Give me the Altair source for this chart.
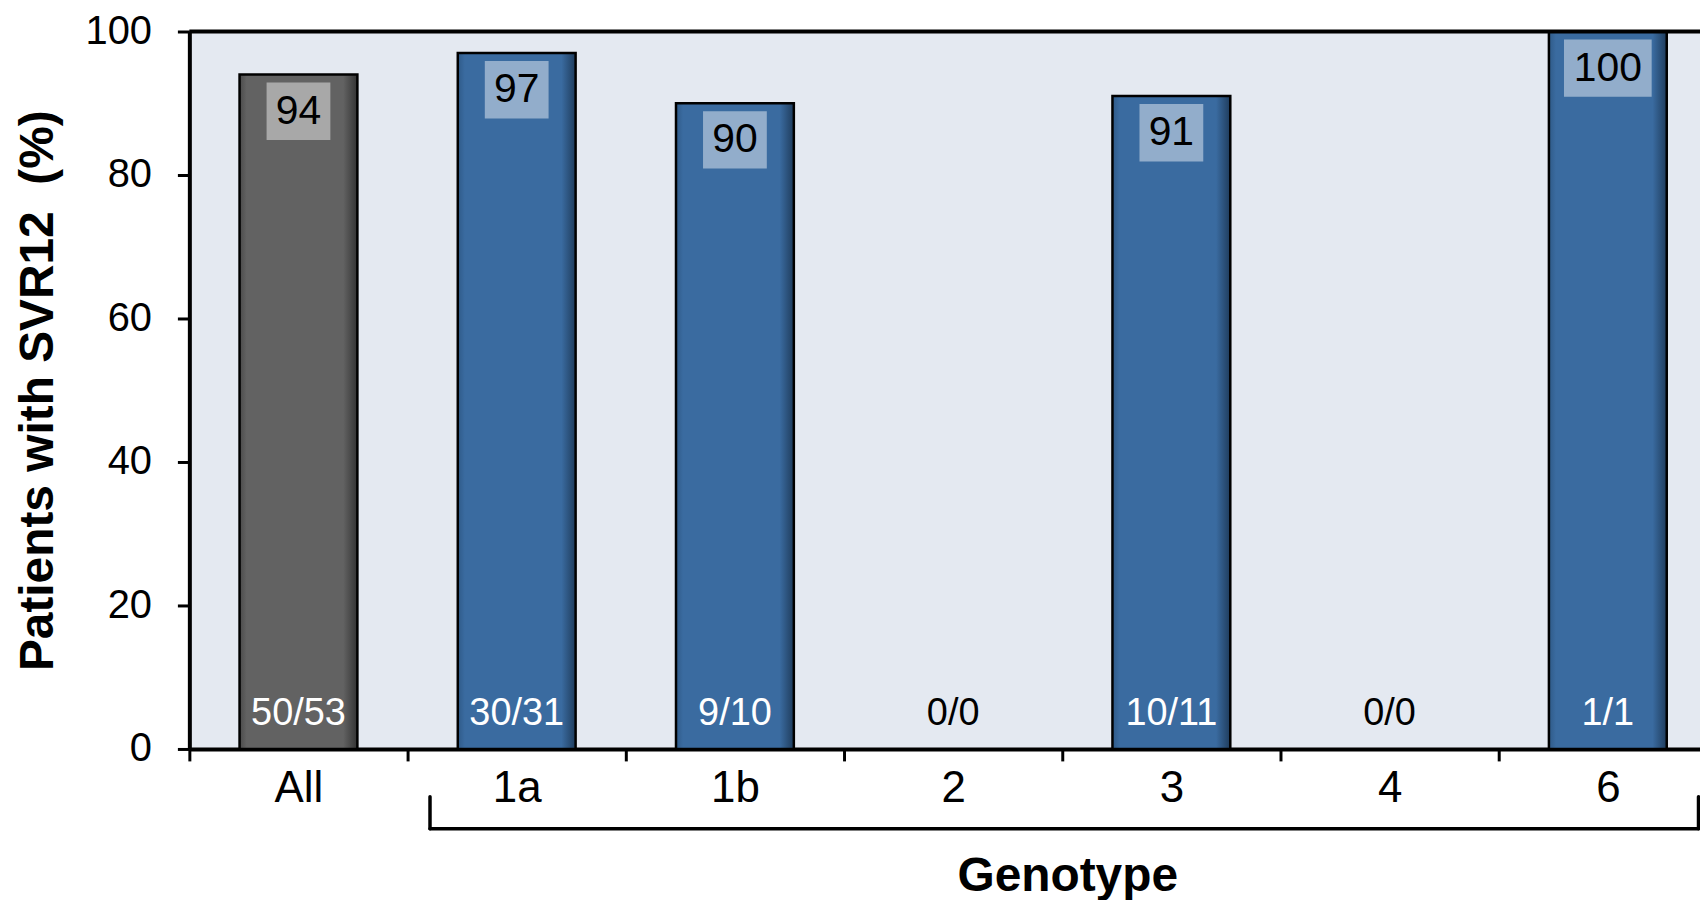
import altair as alt
import pandas as pd

categories = ["All", "1a", "1b", "2", "3", "4", "6"]
pct = [94, 97, 90, None, 91, None, 100]
value_labels = ["94", "97", "90", "", "91", "", "100"]
counts = ["50/53", "30/31", "9/10", "0/0", "10/11", "0/0", "1/1"]
groups = ["all", "geno", "geno", "geno", "geno", "geno", "geno"]

df = pd.DataFrame({"Genotype": categories, "pct": pct, "vlab": value_labels,
                   "count": counts, "group": groups})

FONT = "Liberation Sans"

xscale = alt.Scale(domain=categories, paddingInner=0, paddingOuter=0, range=[0, 1533])
yscale = alt.Scale(domain=[0, 100])

xaxis = alt.Axis(labelAngle=0, labelFontSize=44, labelColor="black", labelFont=FONT,
                 tickBand="extent", tickSize=12, tickWidth=3, tickColor="black",
                 domainColor="black", domainWidth=4, labelPadding=6,
                 title="Genotype", titleFontSize=48, titleFont=FONT, titleFontWeight="bold",
                 titleColor="black", titleX=881, titleY=142, titleBaseline="alphabetic",
                 titleAlign="center")
yaxis = alt.Axis(values=[0, 20, 40, 60, 80, 100], labelFontSize=40, labelColor="black",
                 labelFont=FONT, tickSize=12, tickWidth=3, tickColor="black",
                 domainColor="black", domainWidth=4, labelPadding=26, grid=False,
                 title="Patients with SVR12 \u00a0(%)", titleFontSize=48, titleFont=FONT,
                 titleFontWeight="bold", titleColor="black", titleX=-137, titleY=360,
                 titleBaseline="alphabetic", titleAngle=270, titleAlign="center")

X = alt.X("Genotype:N", scale=xscale, axis=xaxis, sort=categories, title="Genotype")
Y = alt.Y("pct:Q", scale=yscale, axis=yaxis, title="Patients with SVR12 \u00a0(%)")

base = alt.Chart(df)

grad_gray = alt.Gradient(gradient="linear", x1=0, x2=1, y1=0, y2=0, stops=[
    alt.GradientStop(color="#4a4a4a", offset=0),
    alt.GradientStop(color="#626262", offset=0.06),
    alt.GradientStop(color="#626262", offset=0.88),
    alt.GradientStop(color="#333333", offset=1)])
grad_blue = alt.Gradient(gradient="linear", x1=0, x2=1, y1=0, y2=0, stops=[
    alt.GradientStop(color="#2f5a88", offset=0),
    alt.GradientStop(color="#3a6ba0", offset=0.06),
    alt.GradientStop(color="#3a6ba0", offset=0.88),
    alt.GradientStop(color="#1f3c5c", offset=1)])

bar_w = alt.RelativeBandSize(0.54)

bars_all = base.transform_filter("datum.group == 'all'").mark_bar(
    color=grad_gray, stroke="black", strokeWidth=2.5, width=bar_w).encode(x=X, y=Y)
bars_geno = base.transform_filter("datum.group == 'geno' && isValid(datum.pct)").mark_bar(
    color=grad_blue, stroke="black", strokeWidth=2.5, width=bar_w).encode(x=X, y=Y)

boxes = base.transform_filter("isValid(datum.pct)").transform_calculate(
    bot="datum.pct - 8", w="length(datum.vlab) * 24 + 16"
).mark_bar(color="white", opacity=0.45, yOffset=8, y2Offset=8).encode(
    x=X, y=alt.Y("pct:Q", scale=yscale), y2="bot:Q", size=alt.Size("w:Q", scale=None)
)

vtext = base.transform_filter("isValid(datum.pct)").transform_calculate(
    mid="datum.pct - 4"
).mark_text(font=FONT, fontSize=41, color="black", baseline="middle", yOffset=8.5).encode(
    x=X, y=alt.Y("mid:Q", scale=yscale), text="vlab:N"
)

ctext = base.mark_text(font=FONT, fontSize=38, baseline="alphabetic", yOffset=-24).encode(
    x=X, y=alt.datum(0), text="count:N",
    color=alt.condition("isValid(datum.pct)", alt.value("white"), alt.value("black")),
)

one = alt.Chart(pd.DataFrame({"k": [0]}))
top_rule = one.mark_rule(color="black", strokeWidth=4).encode(y=alt.datum(100))

br_h = one.mark_rule(color="black", strokeWidth=3.5, xOffset=-87, x2Offset=91,
                     strokeCap="round").encode(
    x=alt.datum("1a"), x2=alt.datum("6"), y=alt.value(800))
br_l = one.mark_rule(color="black", strokeWidth=3.5, xOffset=-87, strokeCap="round").encode(
    x=alt.datum("1a"), y=alt.value(768), y2=alt.value(800))
br_r = one.mark_rule(color="black", strokeWidth=3.5, xOffset=91, strokeCap="round").encode(
    x=alt.datum("6"), y=alt.value(768), y2=alt.value(800))

chart = alt.layer(bars_all, bars_geno, boxes, vtext, ctext, top_rule, br_h, br_l, br_r).properties(
    width=1516, height=720, autosize="none",
    padding={"left": 182, "top": 22, "right": 0, "bottom": 150},
    background="white",
).configure_view(stroke=None, fill="#e4e9f1")

chart.save("out.html", embed_options={"renderer": "svg", "actions": False})
